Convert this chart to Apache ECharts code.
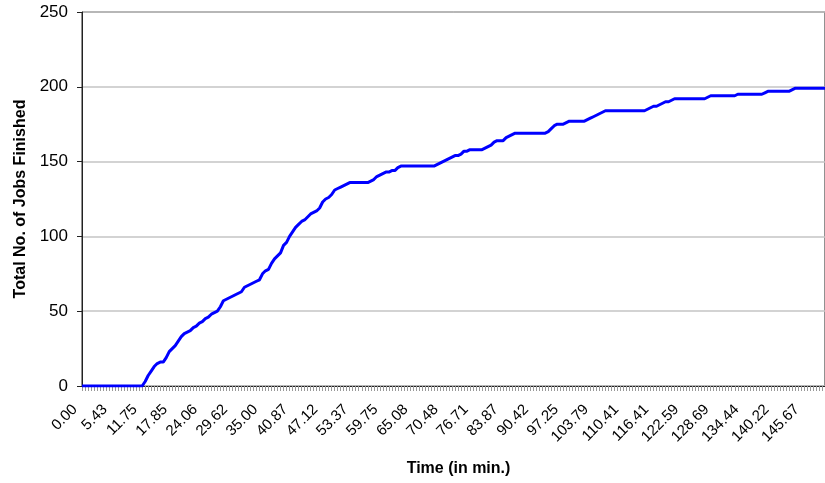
<!DOCTYPE html>
<html>
<head>
<meta charset="utf-8">
<script src="https://cdn.jsdelivr.net/npm/echarts@6/dist/echarts.min.js"></script>
<style>html,body{margin:0;padding:0;background:#fff;}#c{width:825px;height:483px;}</style>
</head>
<body>
<div id="c"></div>
<script>
// Tick labels shown every 10th sample (time in minutes)
const tickLabels = ["0.00","5.43","11.75","17.85","24.06","29.62","35.00","40.87","47.12","53.37","59.75","65.08","70.48","76.71","83.87","90.42","97.25","103.79","110.41","116.41","122.59","128.69","134.44","140.22","145.67"];

// Total number of jobs finished at each sample
const jobsFinished = [
  0,0,0,0,0,0,0,0,0,0, 0,0,0,0,0,0,0,0,0,0,
  0,3,7,10,13,15,16,16,19,23, 25,27,30,33,35,36,37,39,40,42,
  43,45,46,48,49,50,53,57,58,59, 60,61,62,63,66,67,68,69,70,71,
  75,77,78,82,85,87,89,94,96,100, 103,106,108,110,111,113,115,116,117,119,
  123,125,126,128,131,132,133,134,135,136, 136,136,136,136,136,136,137,138,140,141,
  142,143,143,144,144,146,147,147,147,147, 147,147,147,147,147,147,147,147,148,149,
  150,151,152,153,154,154,155,157,157,158, 158,158,158,158,159,160,161,163,164,164,
  164,166,167,168,169,169,169,169,169,169, 169,169,169,169,169,170,172,174,175,175,
  175,176,177,177,177,177,177,177,178,179, 180,181,182,183,184,184,184,184,184,184,
  184,184,184,184,184,184,184,184,185,186, 187,187,188,189,190,190,191,192,192,192,
  192,192,192,192,192,192,192,192,193,194, 194,194,194,194,194,194,194,194,195,195,
  195,195,195,195,195,195,195,196,197,197, 197,197,197,197,197,197,198,199,199,199,
  199,199,199,199,199,199,199,199
];

const categories = jobsFinished.map((_, i) => String(i));
const FONT = '"Liberation Sans", Arial, Helvetica, sans-serif';

const chart = echarts.init(document.getElementById('c'), null, {renderer: 'canvas'});
chart.setOption({
  animation: false,
  backgroundColor: '#fff',
  grid: {left: 82, top: 12, right: 0, bottom: 97, show: true, borderColor: '#222', borderWidth: 1},
  xAxis: {
    type: 'category',
    data: categories,
    boundaryGap: false,
    name: 'Time (in min.)',
    nameLocation: 'middle',
    nameGap: 75,
    nameTextStyle: {fontFamily: FONT, fontWeight: 'bold', fontSize: 16, color: '#000', padding: [0, 0, 0, 10]},
    axisLine: {lineStyle: {color: '#222', width: 1}},
    axisTick: {show: true, interval: 0, length: 5, lineStyle: {color: '#999'}},
    axisLabel: {
      interval: 9,
      rotate: 45,
      margin: 14,
      padding: [0, 10, 0, 0],
      fontFamily: FONT,
      fontSize: 15,
      color: '#000',
      formatter: (v, i) => (i % 10 === 0 ? tickLabels[i / 10] : '')
    },
    splitLine: {show: false}
  },
  yAxis: {
    type: 'value',
    min: 0,
    max: 250,
    interval: 50,
    name: 'Total No. of Jobs Finished',
    nameLocation: 'middle',
    nameGap: 53,
    nameTextStyle: {fontFamily: FONT, fontWeight: 'bold', fontSize: 16, color: '#000'},
    axisLine: {show: true, lineStyle: {color: '#222', width: 1}},
    axisTick: {show: true, length: 5, lineStyle: {color: '#222'}},
    axisLabel: {fontFamily: FONT, fontSize: 17, color: '#000', margin: 14},
    splitLine: {show: true, lineStyle: {color: '#c4c4c4', width: 1.5}}
  },
  series: [{
    type: 'line',
    data: jobsFinished,
    showSymbol: false,
    symbol: 'none',
    lineStyle: {color: '#0000ff', width: 3},
    itemStyle: {color: '#0000ff'}
  }]
});
</script>
</body>
</html>
